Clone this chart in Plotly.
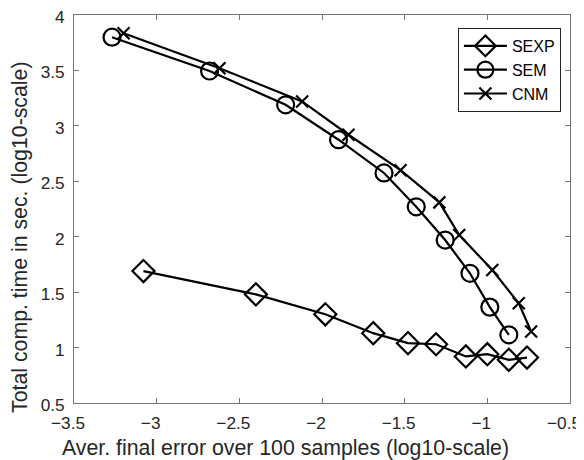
import plotly.graph_objects as go

# series (log10 error, log10 seconds)
sexp_x = [-3.08, -2.40, -1.98, -1.69, -1.48, -1.31, -1.13, -1.00, -0.87, -0.76]
sexp_y = [1.69, 1.48, 1.30, 1.13, 1.04, 1.03, 0.92, 0.94, 0.89, 0.91]

sem_x = [-3.27, -2.68, -2.22, -1.90, -1.625, -1.43, -1.255, -1.105, -0.985, -0.87]
sem_y = [3.80, 3.495, 3.19, 2.875, 2.575, 2.27, 1.97, 1.67, 1.365, 1.115]

cnm_x = [-3.20, -2.62, -2.12, -1.84, -1.525, -1.29, -1.17, -0.97, -0.81, -0.735]
cnm_y = [3.835, 3.52, 3.22, 2.92, 2.60, 2.31, 2.015, 1.70, 1.40, 1.145]

x_title = "Aver. final error over 100 samples (log10-scale)"
y_title = "Total comp. time in sec. (log10-scale)"

font = "Liberation Sans, Arial, sans-serif"

fig = go.Figure()
fig.add_trace(go.Scatter(x=sexp_x, y=sexp_y, name="SEXP", mode="lines+markers",
                         line=dict(color="black", width=2.2),
                         marker=dict(symbol="diamond-open", size=17, color="black",
                                     line=dict(width=2.2, color="black"))))
fig.add_trace(go.Scatter(x=sem_x, y=sem_y, name="SEM", mode="lines+markers",
                         line=dict(color="black", width=2.2),
                         marker=dict(symbol="circle-open", size=17, color="black",
                                     line=dict(width=2.2, color="black"))))
fig.add_trace(go.Scatter(x=cnm_x, y=cnm_y, name="CNM", mode="lines+markers",
                         line=dict(color="black", width=2.2),
                         marker=dict(symbol="x-thin-open", size=12, color="black",
                                     line=dict(width=2.2, color="black"))))

axis_common = dict(showgrid=False, zeroline=False, showline=True, mirror="ticks",
                   linecolor="#777777", linewidth=1, ticks="inside", ticklen=5,
                   tickcolor="#777777", automargin=False, ticklabeloverflow="allow",
                   tickfont=dict(family=font, size=17.2, color="#262626"))

fig.update_xaxes(range=[-3.5, -0.5], dtick=0.5, tick0=-3.5, ticklabelstandoff=4,
                 ticklabelshift=-6, **axis_common)
fig.update_yaxes(range=[0.5, 4], dtick=0.5, tick0=0.5, ticklabelstandoff=5,
                 ticklabelshift=2, **axis_common)

# axis labels sit off-centre in the reference, so place them as annotations
fig.add_annotation(text=x_title, xref="paper", yref="paper", x=0.4274, y=-0.1147,
                   xanchor="center", yanchor="middle", showarrow=False,
                   font=dict(family=font, size=21.3, color="#262626"))
fig.add_annotation(text=y_title, xref="paper", yref="paper", x=-0.1089, y=0.4278,
                   xanchor="center", yanchor="middle", showarrow=False, textangle=-90,
                   font=dict(family=font, size=21.3, color="#262626"))

# the page body adds an 8px offset, so margins are shifted to compensate
fig.update_layout(
    width=584, height=460,
    margin=dict(l=66, r=22, t=7, b=65),
    plot_bgcolor="white", paper_bgcolor="white",
    font=dict(family=font, color="#262626"),
    legend=dict(x=0.774, y=0.9665, xanchor="left", yanchor="top",
                bgcolor="white", bordercolor="#262626", borderwidth=1,
                font=dict(family=font, size=16, color="black"),
                tracegroupgap=0, itemwidth=43),
)

fig.write_html("out.html")
